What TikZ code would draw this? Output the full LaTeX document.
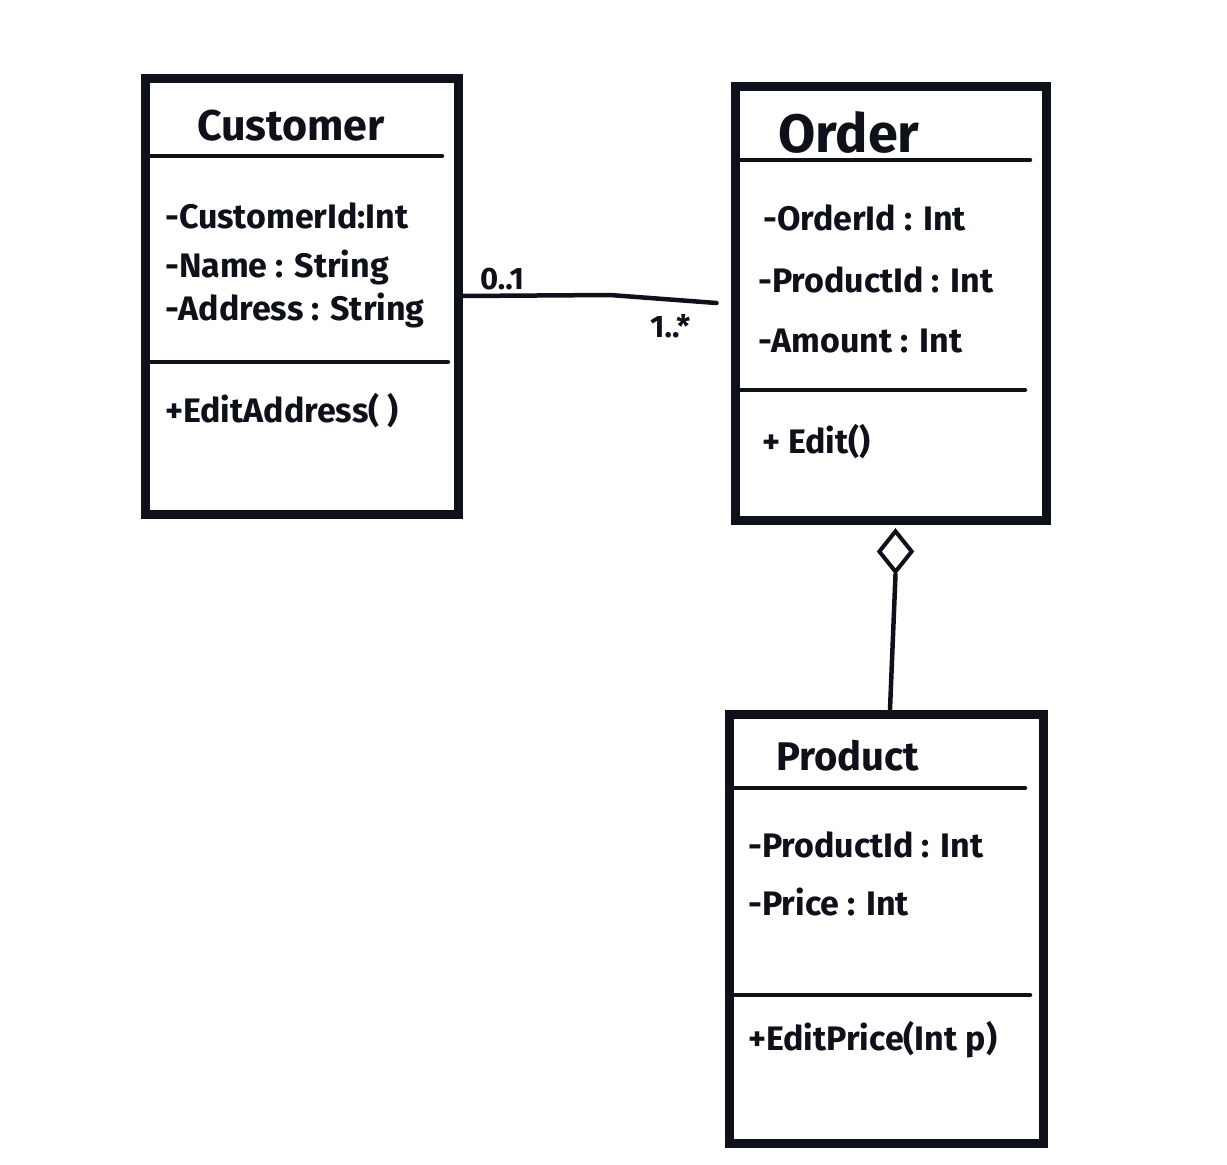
\documentclass[tikz,border=0pt]{standalone}
\usepackage{fontspec}
\setmainfont{Fira Sans}
\usetikzlibrary{shapes.geometric}
\definecolor{ink}{HTML}{0E111A}
\begin{document}
\begin{tikzpicture}[x=1pt,y=-1pt,
  classbox/.style={draw=ink, line width=9pt, rectangle, inner sep=0pt},
  divider/.style={draw=ink, line width=4.5pt, line cap=round},
  titletext/.style={font=\fontsize{43}{43}\selectfont\bfseries, text=ink, anchor=base west, inner sep=0pt},
  member/.style={font=\fontsize{34}{34}\selectfont\bfseries, text=ink, anchor=base west, inner sep=0pt},
  mult/.style={font=\fontsize{31}{31}\selectfont\bfseries, text=ink, anchor=base west, inner sep=0pt},
  assoc/.style={draw=ink, line width=4.5pt, line cap=round, line join=round},
  aggdiamond/.style={diamond, draw=ink, line width=4pt, fill=white, minimum width=34pt, minimum height=42pt, inner sep=0pt}
]
\fill[white] (0,0) rectangle (1227,1165);
\useasboundingbox (0,0) rectangle (1227,1165);

% Customer
\node[classbox, minimum width=313pt, minimum height=436pt] (cust) at (301.5,296) {};
\draw[divider] (150,156) -- (442,156);
\draw[divider] (150,362) -- (448,362);
\node[titletext] (custtitle) at (197,140) {Customer};
\node[member] (c1) at (165,228) {-CustomerId:Int};
\node[member] (c2) at (165,277) {-Name : String};
\node[member] (c3) at (165,320) {-Address : String};
\node[member] (c4) at (165,422) {+EditAddress( )};

% Order
\node[classbox, minimum width=311pt, minimum height=434pt] (order) at (890.5,303) {};
\draw[divider] (738,160) -- (1030,160);
\draw[divider] (738,390) -- (1025,390);
\node[titletext, font=\fontsize{54}{54}\selectfont\bfseries] (ordertitle) at (778,152) {Order};
\node[member] (o1) at (763,230) {-OrderId : Int};
\node[member] (o2) at (758,292) {-ProductId : Int};
\node[member] (o3) at (758,352) {-Amount : Int};
\node[member] (o4) at (762,453) {+ Edit()};

% Product
\node[classbox, minimum width=314pt, minimum height=429pt] (prod) at (886,928.5) {};
\draw[divider] (733,788) -- (1025,788);
\draw[divider] (733,995) -- (1030,995);
\node[titletext, font=\fontsize{40}{40}\selectfont\bfseries] (prodtitle) at (776,770) {Product};
\node[member] (p1) at (748,857) {-ProductId : Int};
\node[member] (p2) at (748,915) {-Price : Int};
\node[member] (p3) at (748,1050) {+EditPrice(Int p)};

% Association
\draw[assoc] (cust.east) -- (610,295) -- ([xshift=-14pt]order.west);
\node[mult] (m1) at (480,289) {0..1};
\node[mult] (m2) at (650,337) {1..*};

% Aggregation
\node[aggdiamond, anchor=north] (agg) at ([xshift=5pt,yshift=-4pt]order.south) {};
\draw[assoc] (agg.south) -- ([xshift=4pt]prod.north);
\end{tikzpicture}
\end{document}
